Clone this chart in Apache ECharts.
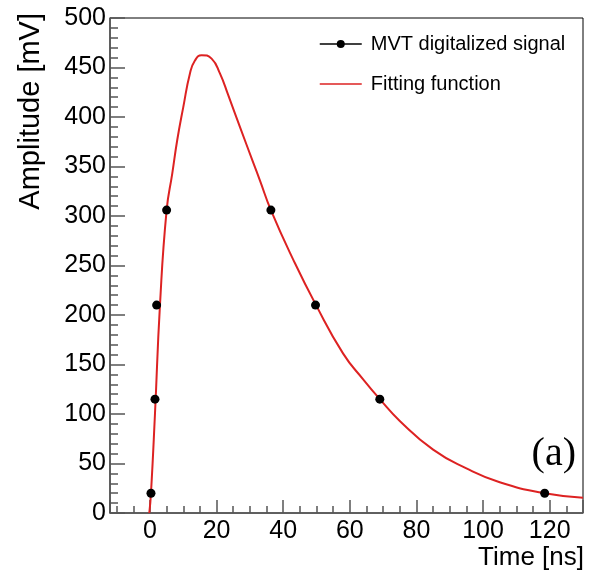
<!DOCTYPE html>
<html>
<head>
<meta charset="utf-8">
<script src="https://cdn.jsdelivr.net/npm/echarts@6/dist/echarts.min.js"></script>
<style>
    html, body { margin: 0; padding: 0; background: #fff; }
    #mychart { width: 589px; height: 573px; }
</style>
</head>
<body>
<div id="mychart"></div>
<script>
// digitised samples (black dots)
var sigTime = [0.3, 1.5, 2.0, 5.0, 36.3, 49.7, 69, 118.5]
var sigAmp = [20, 115, 210, 306, 306, 210, 115, 20]

// fitted curve
var fitTime = [-0.2, 0.3, 1.5, 3, 5, 6.7, 8.2, 10, 12, 13.5, 15.5, 18.5, 21, 23.5, 27, 31, 33, 36.3, 43, 49.7, 58, 64, 69, 75, 85, 95, 105, 118.5, 130]
var fitAmp = [0, 20, 100, 210, 306, 343, 377, 410, 444, 457, 462.5, 459, 444, 422, 390, 354, 336, 306, 256, 211, 161, 135, 115, 93, 64, 45, 31, 20, 15.5]

var legendNames = ['MVT digitalized signal', 'Fitting function']

function zip(xs, ys) {
    var out = []
    for (var i = 0; i < xs.length; i++) {
        out.push([xs[i], ys[i]])
    }
    return out
}

var myChart = echarts.init(document.getElementById('mychart'))

var tickColor = '#555'
var font = 'Liberation Sans, Arial, Helvetica, sans-serif'

var option = {
    animation: false,
    grid: {
        left: 110,
        top: 18,
        right: 6,
        bottom: 60,
        show: true,
        borderColor: '#000',
        borderWidth: 1,
    },
    legend: {
        orient: 'vertical',
        left: 314,
        top: 27,
        itemWidth: 42,
        itemHeight: 10,
        itemGap: 16,
        textStyle: {
            fontFamily: font,
            fontSize: 20,
            color: '#000',
            lineHeight: 24,
            padding: [0, 0, 0, 4],
        },
        data: [
            {
                name: legendNames[0],
                lineStyle: { color: '#000', width: 1.5, opacity: 1 },
                itemStyle: { color: '#000' },
            },
            {
                name: legendNames[1],
                lineStyle: { color: '#dd2222', width: 1.5, opacity: 1 },
                itemStyle: { opacity: 0 },
            },
        ],
    },
    xAxis: {
        type: 'value',
        min: -12,
        max: 130,
        minInterval: 20,
        maxInterval: 20,
        splitLine: { show: false },
        axisLine: { onZero: false, lineStyle: { color: tickColor, width: 1.5 } },
        axisTick: { inside: true, length: 13, lineStyle: { color: tickColor, width: 1.5 } },
        minorTick: { show: true, splitNumber: 4, length: 7, lineStyle: { color: tickColor, width: 1.5 } },
        axisLabel: {
            showMinLabel: false,
            showMaxLabel: false,
            margin: 6,
            fontFamily: font,
            fontSize: 25,
            color: '#000',
        },
    },
    yAxis: {
        type: 'value',
        min: 0,
        max: 500,
        interval: 50,
        splitLine: { show: false },
        axisLine: { onZero: false, lineStyle: { color: tickColor, width: 1.5 } },
        axisTick: { inside: true, length: 15, lineStyle: { color: tickColor, width: 1.5 } },
        minorTick: { show: true, splitNumber: 5, length: 8, lineStyle: { color: tickColor, width: 1.5 } },
        axisLabel: {
            margin: 4,
            fontFamily: font,
            fontSize: 25,
            color: '#000',
        },
    },
    graphic: [
        {
            type: 'text',
            x: 31,
            y: 13,
            rotation: Math.PI / 2,
            style: {
                text: 'Amplitude [mV]',
                fontFamily: font,
                fontSize: 29,
                fill: '#000',
                align: 'right',
                verticalAlign: 'middle',
            },
        },
        {
            type: 'text',
            x: 584,
            y: 558,
            style: {
                text: 'Time [ns]',
                fontFamily: font,
                fontSize: 26,
                fill: '#000',
                align: 'right',
                verticalAlign: 'middle',
            },
        },
        {
            type: 'text',
            x: 576,
            y: 454,
            style: {
                text: '(a)',
                fontFamily: 'Liberation Serif, Times New Roman, serif',
                fontSize: 40,
                fill: '#000',
                align: 'right',
                verticalAlign: 'middle',
            },
        },
    ],
    series: [
        {
            name: legendNames[1],
            type: 'line',
            data: zip(fitTime, fitAmp),
            smooth: 0.5,
            symbol: 'none',
            lineStyle: { color: '#dd2222', width: 2 },
            itemStyle: { color: '#dd2222' },
            z: 2,
        },
        {
            name: legendNames[0],
            type: 'line',
            data: zip(sigTime, sigAmp),
            symbol: 'circle',
            symbolSize: 9,
            lineStyle: { opacity: 0 },
            itemStyle: { color: '#000' },
            z: 3,
        },
    ],
}

myChart.setOption(option)
</script>
</body>
</html>
